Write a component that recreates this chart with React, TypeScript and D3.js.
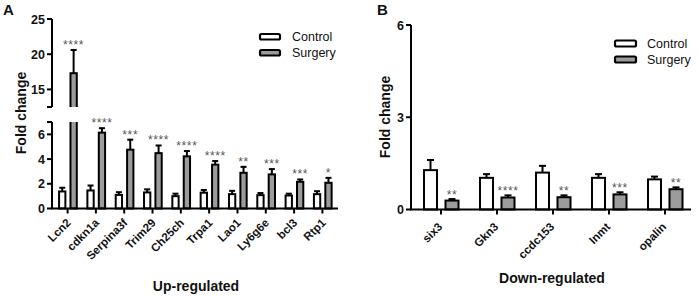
import React from 'react';
import * as d3 from 'd3';

const genesUp = ['Lcn2', 'cdkn1a', 'Serpina3f', 'Trim29', 'Ch25ch', 'Trpa1', 'Lao1', 'Ly6g6e', 'bcl3', 'Rtp1'];
const upControl = [1.38, 1.46, 1.1, 1.3, 1.0, 1.28, 1.16, 1.08, 1.05, 1.16];
const upControlSem = [0.3, 0.4, 0.22, 0.25, 0.2, 0.22, 0.27, 0.17, 0.15, 0.24];
const upSurgery = [17.3, 6.14, 4.76, 4.48, 4.22, 3.55, 2.89, 2.76, 2.16, 2.08];
const upSurgerySem = [3.3, 0.36, 0.81, 0.62, 0.43, 0.29, 0.48, 0.43, 0.19, 0.4];
const upStars = ['****', '****', '***', '****', '****', '****', '**', '***', '***', '*'];

const genesDown = ['six3', 'Gkn3', 'ccdc153', 'Inmt', 'opalin'];
const downControl = [1.28, 1.03, 1.2, 1.03, 0.98];
const downControlSem = [0.33, 0.12, 0.22, 0.12, 0.09];
const downSurgery = [0.29, 0.39, 0.4, 0.49, 0.66];
const downSurgerySem = [0.05, 0.07, 0.06, 0.07, 0.06];
const downStars = ['**', '****', '**', '***', '**'];

const groups = ['Control', 'Surgery'];
const upLowTicks = [0, 2, 4, 6];
const upHighTicks = [15, 20, 25];
const downTicks = [0, 3, 6];

const FONT = 'Liberation Sans, Arial, Helvetica, sans-serif';
const GREY = '#9c9c9c';
const fills: Record<string, string> = { Control: '#ffffff', Surgery: GREY };

export default function App() {
  // ---------- Panel A ----------
  const axA = 52;
  const x0A = 338;
  const xA = d3.scaleBand<string>().domain(genesUp).range([axA, x0A]).paddingInner(0).paddingOuter(0.05);
  const xA1 = d3.scaleBand<string>().domain(groups).range([-8.5, 9.2]).paddingInner(0.447).paddingOuter(0);
  const yLow = d3.scaleLinear().domain([0, 7]).range([208.5, 122]);
  const yHigh = d3.scaleLinear().domain([12.5, 25]).range([107, 19]);
  const posA = (v: number) => (v > 7 ? yHigh(v) : yLow(v));

  const upRows = genesUp.map((g, i) => ({
    g,
    bars: [
      { k: 'Control', v: upControl[i], s: upControlSem[i] },
      { k: 'Surgery', v: upSurgery[i], s: upSurgerySem[i] },
    ],
    star: upStars[i],
  }));

  const drawBarsA = (y: d3.ScaleLinear<number, number>, clip: string) => (
    <g clipPath={`url(#${clip})`}>
      {upRows.map((r) =>
        r.bars.map((b) => {
          const cx = (xA(r.g) as number) + xA.bandwidth() / 2;
          const bx = cx + (xA1(b.k) as number);
          const bw = xA1.bandwidth();
          const mid = bx + bw / 2;
          return (
            <g key={r.g + b.k}>
              <line x1={mid} x2={mid} y1={y(b.v)} y2={y(b.v + b.s)} stroke="#000" strokeWidth={2} />
              <line x1={mid - 3} x2={mid + 3} y1={y(b.v + b.s)} y2={y(b.v + b.s)} stroke="#000" strokeWidth={2} />
              <rect x={bx} y={y(b.v)} width={bw} height={y(0) - y(b.v)} fill={fills[b.k]} stroke="#000" strokeWidth={2} />
            </g>
          );
        })
      )}
    </g>
  );

  // ---------- Panel B ----------
  const axB = 411;
  const x0B = 691;
  const xB = d3.scaleBand<string>().domain(genesDown).range([axB + 2, x0B + 2]).paddingInner(0).paddingOuter(0);
  const xB1 = d3.scaleBand<string>().domain(groups).range([-17, 17.5]).paddingInner(0.395).paddingOuter(0);
  const yB = d3.scaleLinear().domain([0, 6]).range([209.5, 25]);

  const downRows = genesDown.map((g, i) => ({
    g,
    bars: [
      { k: 'Control', v: downControl[i], s: downControlSem[i] },
      { k: 'Surgery', v: downSurgery[i], s: downSurgerySem[i] },
    ],
    star: downStars[i],
  }));

  const tickLabel = { fontFamily: FONT, fontWeight: 700, fontSize: 12.5, fill: '#111' } as const;
  const catLabel = { fontFamily: FONT, fontWeight: 700, fontSize: 11.5, fill: '#111' } as const;
  const titleStyle = { fontFamily: FONT, fontWeight: 700, fontSize: 14, fill: '#111' } as const;
  const starStyle = { fontFamily: FONT, fontSize: 12, fill: '#555', letterSpacing: 0.6 } as const;
  const legendText = { fontFamily: FONT, fontSize: 12.5, fill: '#111' } as const;

  return (
    <svg width={698} height={297} style={{ position: 'absolute', left: 0, top: 0, background: '#fff' }}>
      <defs>
        <clipPath id="clipLow">
          <rect x={0} y={yLow(7)} width={698} height={120} />
        </clipPath>
        <clipPath id="clipHigh">
          <rect x={0} y={0} width={698} height={yHigh(12.5)} />
        </clipPath>
      </defs>
      <rect width={698} height={297} fill="#fff" />

      {/* Panel labels */}
      <text x={3} y={15} style={{ ...titleStyle, fontSize: 15 }}>A</text>
      <text x={377} y={15} style={{ ...titleStyle, fontSize: 15 }}>B</text>

      {/* ===== Panel A ===== */}
      {drawBarsA(yLow, 'clipLow')}
      {drawBarsA(yHigh, 'clipHigh')}

      {/* stars A */}
      {upRows.map((r) => {
        const cx = (xA(r.g) as number) + xA.bandwidth() / 2;
        const b = r.bars[1];
        const mid = cx + (xA1('Surgery') as number) + xA1.bandwidth() / 2;
        return (
          <text key={'s' + r.g} x={mid} y={posA(b.v + b.s) - 1} textAnchor="middle" style={starStyle}>
            {r.star}
          </text>
        );
      })}

      {/* y axis A: lower segment */}
      <line x1={axA} x2={axA} y1={yLow(0)} y2={yLow(7)} stroke="#000" strokeWidth={2} />
      {[...upLowTicks, 7].map((t) => (
        <line key={'lt' + t} x1={axA - 5} x2={axA} y1={yLow(t)} y2={yLow(t)} stroke="#000" strokeWidth={2} />
      ))}
      {upLowTicks.map((t) => (
        <text key={'ll' + t} x={axA - 7} y={yLow(t)} dy="0.36em" textAnchor="end" style={tickLabel}>{t}</text>
      ))}
      {/* y axis A: upper segment */}
      <line x1={axA} x2={axA} y1={yHigh(12.5)} y2={yHigh(25)} stroke="#000" strokeWidth={2} />
      {[12.5, ...upHighTicks].map((t) => (
        <line key={'ht' + t} x1={axA - 5} x2={axA} y1={yHigh(t)} y2={yHigh(t)} stroke="#000" strokeWidth={2} />
      ))}
      {upHighTicks.map((t) => (
        <text key={'hl' + t} x={axA - 7} y={yHigh(t)} dy="0.36em" textAnchor="end" style={tickLabel}>{t}</text>
      ))}

      {/* x axis A */}
      <line x1={axA - 1} x2={x0A} y1={yLow(0)} y2={yLow(0)} stroke="#000" strokeWidth={2} />
      {genesUp.map((g) => {
        const cx = (xA(g) as number) + xA.bandwidth() / 2;
        return (
          <g key={'xa' + g}>
            <line x1={cx} x2={cx} y1={yLow(0)} y2={yLow(0) + 5} stroke="#000" strokeWidth={2} />
            <text transform={`translate(${cx + 4},${yLow(0) + 15}) rotate(-45)`} textAnchor="end" style={catLabel}>{g}</text>
          </g>
        );
      })}

      <text transform={`translate(26,113) rotate(-90)`} textAnchor="middle" style={titleStyle}>Fold change</text>
      <text x={196} y={291} textAnchor="middle" style={titleStyle}>Up-regulated</text>

      {/* legend A */}
      {groups.map((k, i) => (
        <g key={'lga' + k}>
          <rect x={260} y={34 + i * 16} width={20} height={5.5} rx={1.5} fill={fills[k]} stroke="#000" strokeWidth={2.2} />
          <text x={292} y={41 + i * 16} style={legendText}>{k}</text>
        </g>
      ))}

      {/* ===== Panel B ===== */}
      {downRows.map((r) =>
        r.bars.map((b) => {
          const cx = (xB(r.g) as number) + xB.bandwidth() / 2;
          const bx = cx + (xB1(b.k) as number);
          const bw = xB1.bandwidth();
          const mid = bx + bw / 2;
          return (
            <g key={'b' + r.g + b.k}>
              <line x1={mid} x2={mid} y1={yB(b.v)} y2={yB(b.v + b.s)} stroke="#000" strokeWidth={2} />
              <line x1={mid - 3.5} x2={mid + 3.5} y1={yB(b.v + b.s)} y2={yB(b.v + b.s)} stroke="#000" strokeWidth={2} />
              <rect x={bx} y={yB(b.v)} width={bw} height={yB(0) - yB(b.v)} fill={fills[b.k]} stroke="#000" strokeWidth={2} />
            </g>
          );
        })
      )}
      {downRows.map((r) => {
        const cx = (xB(r.g) as number) + xB.bandwidth() / 2;
        const b = r.bars[1];
        const mid = cx + (xB1('Surgery') as number) + xB1.bandwidth() / 2;
        return (
          <text key={'sb' + r.g} x={mid} y={yB(b.v + b.s)} textAnchor="middle" style={starStyle}>
            {r.star}
          </text>
        );
      })}

      {/* y axis B */}
      <line x1={axB} x2={axB} y1={yB(0)} y2={yB(6)} stroke="#000" strokeWidth={2} />
      {downTicks.map((t) => (
        <g key={'bt' + t}>
          <line x1={axB - 5} x2={axB} y1={yB(t)} y2={yB(t)} stroke="#000" strokeWidth={2} />
          <text x={axB - 7} y={yB(t)} dy="0.36em" textAnchor="end" style={tickLabel}>{t}</text>
        </g>
      ))}
      {/* x axis B */}
      <line x1={axB - 1} x2={x0B} y1={yB(0)} y2={yB(0)} stroke="#000" strokeWidth={2} />
      {genesDown.map((g) => {
        const cx = (xB(g) as number) + xB.bandwidth() / 2;
        return (
          <g key={'xb' + g}>
            <line x1={cx} x2={cx} y1={yB(0)} y2={yB(0) + 5} stroke="#000" strokeWidth={2} />
            <text transform={`translate(${cx + 2},${yB(0) + 18}) rotate(-45)`} textAnchor="end" style={catLabel}>{g}</text>
          </g>
        );
      })}

      <text transform={`translate(390,117) rotate(-90)`} textAnchor="middle" style={titleStyle}>Fold change</text>
      <text x={552} y={283} textAnchor="middle" style={titleStyle}>Down-regulated</text>

      {/* legend B */}
      {groups.map((k, i) => (
        <g key={'lgb' + k}>
          <rect x={615} y={40.5 + i * 16} width={21} height={6} rx={1.5} fill={fills[k]} stroke="#000" strokeWidth={2.2} />
          <text x={647} y={48 + i * 16} style={legendText}>{k}</text>
        </g>
      ))}
    </svg>
  );
}
